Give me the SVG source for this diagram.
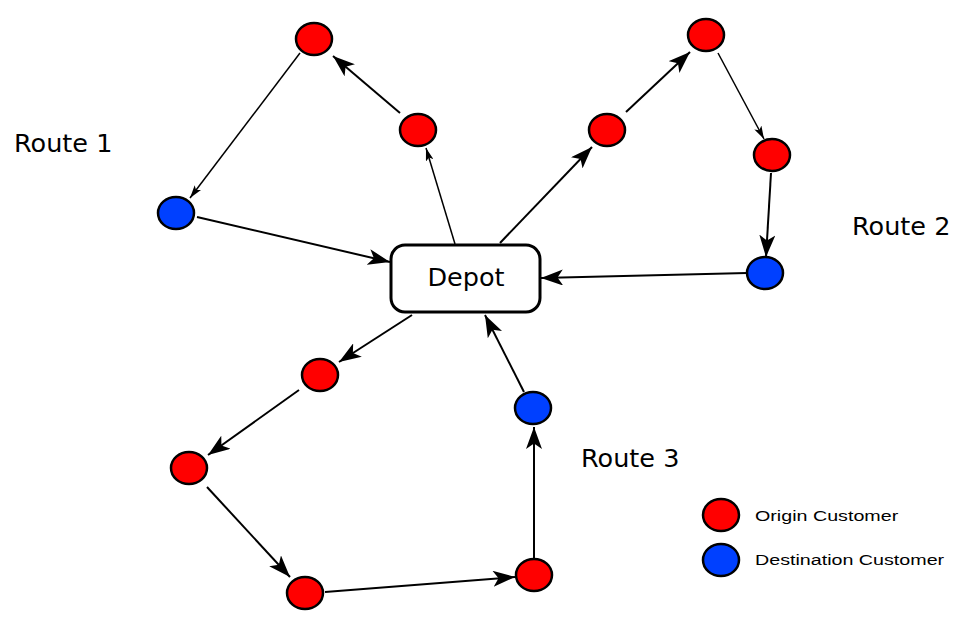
<svg xmlns="http://www.w3.org/2000/svg" width="967" height="630" viewBox="0 0 967 630">
<style>
.o{fill:#ff0000;stroke:#000;stroke-width:2.5}
.d{fill:#0040ff;stroke:#000;stroke-width:2.5}
.e{stroke:#000;stroke-width:2;fill:none;marker-end:url(#big)}
.t{stroke:#000;stroke-width:1.5;fill:none;marker-end:url(#small)}
.lbl{font-family:"DejaVu Sans",sans-serif;font-size:25.5px;fill:#000}
.leg{font-family:"Liberation Sans",Arial,sans-serif;font-size:15.5px;fill:#000}
</style>
<defs>
<marker id="big" viewBox="0 0 22 16" refX="22" refY="8" markerWidth="22" markerHeight="16" markerUnits="userSpaceOnUse" orient="auto">
<path d="M22,8 L0,0 L5.5,8 L0,16 z" fill="#000"/>
</marker>
<marker id="small" viewBox="0 0 13 8" refX="13" refY="4" markerWidth="13" markerHeight="8" markerUnits="userSpaceOnUse" orient="auto">
<path d="M13,4 L0,0 L3,4 L0,8 z" fill="#000"/>
</marker>
</defs>
<rect width="967" height="630" fill="#fff"/>
<g id="connectors">
<line class="t" x1="455" y1="244" x2="426" y2="148"/>
<line class="e" x1="400" y1="113" x2="333" y2="56"/>
<line class="t" x1="300" y1="53" x2="190" y2="198"/>
<line class="e" x1="197" y1="217" x2="390" y2="262"/>
<line class="e" x1="500" y1="243" x2="592" y2="147"/>
<line class="e" x1="626" y1="112" x2="690" y2="52"/>
<line class="t" x1="718" y1="53" x2="764" y2="139"/>
<line class="e" x1="771" y1="173" x2="766" y2="257"/>
<line class="e" x1="747" y1="273" x2="541" y2="278"/>
<line class="e" x1="412" y1="315" x2="339" y2="362"/>
<line class="e" x1="299" y1="390" x2="208" y2="455"/>
<line class="e" x1="207" y1="487" x2="290" y2="577"/>
<line class="e" x1="325" y1="592" x2="515" y2="577"/>
<line class="e" x1="534" y1="558" x2="534" y2="427"/>
<line class="e" x1="524" y1="392" x2="485" y2="315"/>
</g>
<g id="depot">
<rect x="391" y="245" width="149" height="67" rx="14" fill="#fff" stroke="#000" stroke-width="3"/>
<text class="lbl" x="466" y="286" text-anchor="middle">Depot</text>
</g>
<g id="r1a"><ellipse class="o" cx="314" cy="39" rx="18" ry="16"/></g>
<g id="r1b"><ellipse class="o" cx="418" cy="130" rx="18" ry="16"/></g>
<g id="r1c"><ellipse class="d" cx="176" cy="213" rx="18" ry="16"/></g>
<g id="r2a"><ellipse class="o" cx="607" cy="130" rx="18" ry="16"/></g>
<g id="r2b"><ellipse class="o" cx="706" cy="35" rx="18" ry="16"/></g>
<g id="r2c"><ellipse class="o" cx="772" cy="155" rx="18" ry="16"/></g>
<g id="r2d"><ellipse class="d" cx="765" cy="273" rx="18" ry="16"/></g>
<g id="r3a"><ellipse class="o" cx="320" cy="375" rx="18" ry="16"/></g>
<g id="r3b"><ellipse class="o" cx="189" cy="468" rx="18" ry="16"/></g>
<g id="r3c"><ellipse class="o" cx="305" cy="593" rx="18" ry="16"/></g>
<g id="r3d"><ellipse class="o" cx="534" cy="575" rx="18" ry="16"/></g>
<g id="r3e"><ellipse class="d" cx="533" cy="408" rx="18" ry="16"/></g>
<g id="labels">
<text class="lbl" x="14" y="152">Route 1</text>
<text class="lbl" x="852" y="235">Route 2</text>
<text class="lbl" x="581" y="467">Route 3</text>
</g>
<g id="legend">
<ellipse class="o" cx="721" cy="515" rx="18" ry="16"/>
<ellipse class="d" cx="721" cy="560" rx="18" ry="16"/>
<text class="leg" transform="translate(755,521) scale(1.27,1)">Origin Customer</text>
<text class="leg" transform="translate(755,565) scale(1.27,1)">Destination Customer</text>
</g>
</svg>
